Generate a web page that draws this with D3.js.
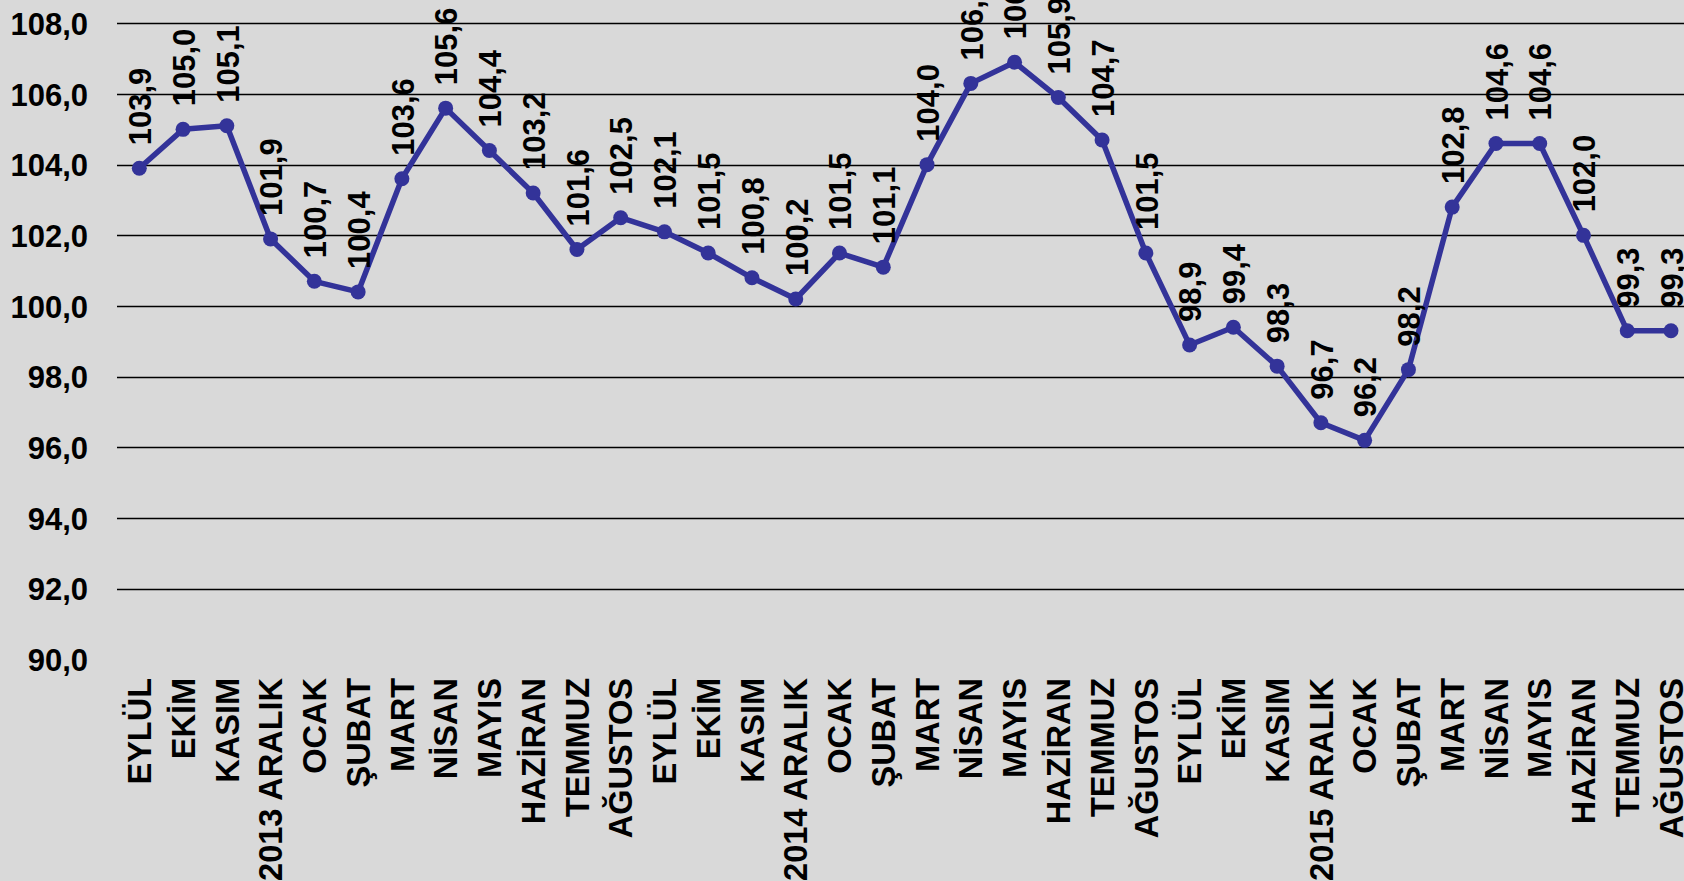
<!DOCTYPE html>
<html>
<head>
<meta charset="utf-8">
<script src="https://cdn.jsdelivr.net/npm/d3@7"></script>
<style>
  body { margin: 0; background: #d9d9d9; }
  svg { display: block; background: #d9d9d9; }
  text { font-family: 'Liberation Sans', Arial, sans-serif; font-weight: bold; fill: #000; }
</style>
</head>
<body>
<svg width="1684" height="881"></svg>
<script>
var months = ['EYLÜL', 'EKİM', 'KASIM', '2013 ARALIK', 'OCAK', 'ŞUBAT', 'MART', 'NİSAN',
  'MAYIS', 'HAZİRAN', 'TEMMUZ', 'AĞUSTOS',
  'EYLÜL', 'EKİM', 'KASIM', '2014 ARALIK', 'OCAK', 'ŞUBAT', 'MART', 'NİSAN',
  'MAYIS', 'HAZİRAN', 'TEMMUZ', 'AĞUSTOS',
  'EYLÜL', 'EKİM', 'KASIM', '2015 ARALIK', 'OCAK', 'ŞUBAT', 'MART', 'NİSAN',
  'MAYIS', 'HAZİRAN', 'TEMMUZ', 'AĞUSTOS'];

var values = [103.9, 105.0, 105.1, 101.9, 100.7, 100.4, 103.6, 105.6, 104.4, 103.2, 101.6, 102.5,
  102.1, 101.5, 100.8, 100.2, 101.5, 101.1, 104.0, 106.3, 106.9, 105.9, 104.7, 101.5,
  98.9, 99.4, 98.3, 96.7, 96.2, 98.2, 102.8, 104.6, 104.6, 102.0, 99.3, 99.3];

var yTicks = [90, 92, 94, 96, 98, 100, 102, 104, 106, 108];

var svg = d3.select('svg');
var svgWidth = +svg.attr('width');

var plotLeft = 117;
var fmt = function(v) { return v.toFixed(1).replace('.', ','); };

var xScale = d3.scalePoint()
    .domain(d3.range(months.length))
    .range([139.3, 1671]);

var yScale = d3.scaleLinear()
    .domain([90, 108])
    .range([659.5, 23.3]);

// gridlines (none at the 90 baseline)
svg.append('g')
    .selectAll('line')
    .data(yTicks.filter(function(d) { return d > 90; }))
    .enter()
    .append('line')
    .attr('x1', plotLeft)
    .attr('x2', svgWidth)
    .attr('y1', function(d) { return Math.round(yScale(d)) + 0.5; })
    .attr('y2', function(d) { return Math.round(yScale(d)) + 0.5; })
    .attr('stroke', '#000')
    .attr('stroke-width', 1.6);

// y axis labels
var yAxis = d3.axisLeft(yScale)
    .tickValues(yTicks)
    .tickFormat(fmt)
    .tickSize(0)
    .tickPadding(29);

var yG = svg.append('g')
    .attr('transform', 'translate(' + plotLeft + ',0)')
    .call(yAxis);
yG.select('.domain').remove();
yG.selectAll('text')
    .attr('dy', '0.36em')
    .style('font-size', '31px')
    .style('font-family', "'Liberation Sans', Arial, sans-serif")
    .style('font-weight', 'bold')
    .attr('fill', '#000');

// x axis labels (rotated)
svg.append('g')
    .selectAll('text')
    .data(months)
    .enter()
    .append('text')
    .attr('transform', function(d, i) {
      return 'translate(' + xScale(i) + ',678) rotate(-90)';
    })
    .attr('text-anchor', 'end')
    .attr('dy', '0.36em')
    .style('font-size', '32.5px')
    .text(function(d) { return d; });

// line
var line = d3.line()
    .x(function(d, i) { return xScale(i); })
    .y(function(d) { return yScale(d); });

svg.append('path')
    .datum(values)
    .attr('d', line)
    .attr('fill', 'none')
    .attr('stroke', '#333399')
    .attr('stroke-width', 5.5)
    .attr('stroke-linejoin', 'round');

svg.append('g')
    .selectAll('circle')
    .data(values)
    .enter()
    .append('circle')
    .attr('cx', function(d, i) { return xScale(i); })
    .attr('cy', function(d) { return yScale(d); })
    .attr('r', 7.5)
    .attr('fill', '#333399');

// data labels
svg.append('g')
    .selectAll('text')
    .data(values)
    .enter()
    .append('text')
    .attr('transform', function(d, i) {
      return 'translate(' + xScale(i) + ',' + (yScale(d) - 23) + ') rotate(-90)';
    })
    .attr('text-anchor', 'start')
    .attr('dy', '0.38em')
    .style('font-size', '31px')
    .text(function(d) { return fmt(d); });
</script>
</body>
</html>
